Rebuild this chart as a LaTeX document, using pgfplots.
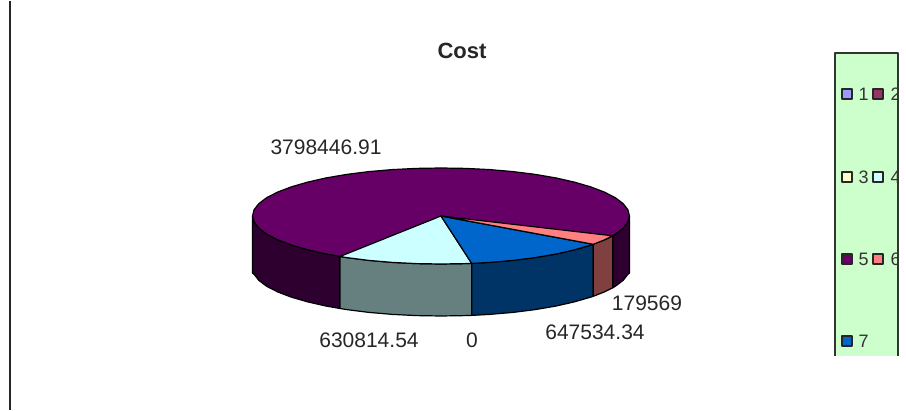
\documentclass[border=0pt]{standalone}
\usepackage{pgfplots}
\usepackage{fontspec}
\setmainfont{Liberation Sans}
\pgfplotsset{compat=1.18}
\definecolor{purpletop}{HTML}{660066}
\definecolor{purpleside}{HTML}{2E0030}
\definecolor{cyantop}{HTML}{CCFFFF}
\definecolor{cyanside}{HTML}{668080}
\definecolor{bluetop}{HTML}{0066CC}
\definecolor{blueside}{HTML}{003366}
\definecolor{pinktop}{HTML}{FF8080}
\definecolor{pinkside}{HTML}{804040}
\definecolor{legendbg}{HTML}{CCFFCC}
\definecolor{swatchone}{HTML}{9999FF}
\definecolor{swatchtwo}{HTML}{993366}
\definecolor{swatchthree}{HTML}{FFFFCC}
\tikzset{
    lbl/.style={font=\fontsize{21}{23}\selectfont, text=black!85},
    legtxt/.style={font=\fontsize{18}{20}\selectfont, anchor=west, text=black!80},
}
\begin{document}
\begin{tikzpicture}
\begin{axis}[
    scale only axis,
    width=906pt,
    height=409pt,
    xmin=0, xmax=906,
    ymin=0, ymax=409,
    y dir=reverse,
    axis lines=none,
    clip=false,
    every axis plot/.append style={line width=1.2pt, line join=round},
    swatch/.style={only marks, mark=square*, mark size=5pt,
        mark options={fill=#1, draw=black!85, line width=1.2pt}},
]
% keeps the page the full size of the reference
\addplot[draw=none] coordinates {(0,0) (906,409)};
% rule on the left
\addplot[black!85, line width=2pt] coordinates {(10,0) (10,409)};

% purple top (whole disc, the other slices go over it)
\addplot[fill=purpletop, draw=black] coordinates {
    (629.5,215) (627.9,208.7) (623.1,202.6) (615.2,196.6) (604.2,191) (590.5,185.8)
    (574.3,181.1) (555.8,176.9) (535.3,173.4) (513.2,170.6) (489.8,168.6) (465.6,167.4)
    (441,167) (416.4,167.4) (392.2,168.6) (368.8,170.6) (346.7,173.4) (326.2,176.9)
    (307.7,181.1) (291.5,185.8) (277.8,191) (266.8,196.6) (258.9,202.6) (254.1,208.7)
    (252.5,215) (254.1,221.3) (258.9,227.4) (266.8,233.4) (277.8,239) (291.5,244.2)
    (307.7,248.9) (326.2,253.1) (346.7,256.6) (368.8,259.4) (392.2,261.4) (416.4,262.6)
    (441,263) (465.6,262.6) (489.8,261.4) (513.2,259.4) (535.3,256.6) (555.8,253.1)
    (574.3,248.9) (590.5,244.2) (604.2,239) (615.2,233.4) (623.1,227.4) (627.9,221.3)
} --cycle;

% purple side, left part
\addplot[fill=purpleside, draw=black] coordinates {
    (252.5,215) (254.1,221.3) (258.9,227.4) (266.8,233.4) (277.8,239) (291.5,244.2)
    (307.7,248.9) (326.2,253.1) (340,255.5)
    (340,307.5) (326.2,305.1) (307.7,300.9) (291.5,296.2) (277.8,291) (266.8,285.4)
    (258.9,279.4) (254.1,273.3) (252.5,272)
} --cycle;

% purple side, right part
\addplot[fill=purpleside, draw=black] coordinates {
    (612.7,234.8) (615.2,233.4) (623.1,227.4) (627.9,221.3) (629.5,215)
    (629.5,272) (627.9,273.3) (623.1,279.4) (615.2,285.4) (612.7,286.8)
} --cycle;

% pale cyan slice
\addplot[fill=cyanside, draw=black] coordinates {
    (340,255.5) (346.7,256.6) (368.8,259.4) (392.2,261.4) (416.4,262.6) (441,263) (465.6,262.6) (471.7,262.4)
    (471.7,314.4) (465.6,314.6) (441,315) (416.4,314.6) (392.2,313.4) (368.8,311.4) (346.7,308.6) (340,307.5)
} --cycle;
\addplot[fill=cyantop, draw=black] coordinates {
    (441,215) (340,255.5) (346.7,256.6) (368.8,259.4) (392.2,261.4) (416.4,262.6) (441,263) (465.6,262.6) (471.7,262.4)
} --cycle;

% blue slice
\addplot[fill=blueside, draw=black] coordinates {
    (471.7,262.4) (489.8,261.4) (513.2,259.4) (535.3,256.6) (555.8,253.1) (574.3,248.9) (590.5,244.2) (593.3,243.3)
    (593.3,295.3) (590.5,296.2) (574.3,300.9) (555.8,305.1) (535.3,308.6) (513.2,311.4) (489.8,313.4) (471.7,314.4)
} --cycle;
\addplot[fill=bluetop, draw=black] coordinates {
    (441,215) (471.7,262.4) (489.8,261.4) (513.2,259.4) (535.3,256.6) (555.8,253.1) (574.3,248.9) (590.5,244.2) (593.3,243.3)
} --cycle;

% pink slice
\addplot[fill=pinkside, draw=black] coordinates {
    (593.3,243.3) (604.2,239) (612.7,234.8) (612.7,286.8) (604.2,291) (593.3,295.3)
} --cycle;
\addplot[fill=pinktop, draw=black] coordinates {
    (441,215) (593.3,243.3) (604.2,239) (612.7,234.8)
} --cycle;

% legend box
\addplot[fill=legendbg, draw=none] coordinates {(835,52) (898,52) (898,355) (835,355)} --cycle;

% legend swatches
\addplot[swatch=swatchone] coordinates {(847,93)};
\addplot[swatch=swatchtwo] coordinates {(878,93)};
\addplot[swatch=swatchthree] coordinates {(847,176)};
\addplot[swatch=cyantop] coordinates {(878,176)};
\addplot[swatch=purpletop] coordinates {(847,258)};
\addplot[swatch=pinktop] coordinates {(878,258)};
\addplot[swatch=bluetop] coordinates {(847,340)};

% legend entries, cut off by the box as in the reference
\begin{scope}
\clip (axis cs:835,52) rectangle (axis cs:897,355);
\node[legtxt] at (axis cs:855,93) {1};
\node[legtxt] at (axis cs:887,93) {2};
\node[legtxt] at (axis cs:855,176) {3};
\node[legtxt] at (axis cs:887,176) {4};
\node[legtxt] at (axis cs:855,258) {5};
\node[legtxt] at (axis cs:887,258) {6};
\node[legtxt] at (axis cs:855,340) {7};
\end{scope}
\addplot[color=black!80, line width=1.3pt] coordinates {(835,355) (835,52) (898,52) (898,355)};

% texts
\node[font=\fontsize{22}{24}\selectfont\bfseries, text=black!85] at (axis cs:462,50) {Cost};
\node[lbl] at (axis cs:326,146) {3798446.91};
\node[lbl] at (axis cs:369,339) {630814.54};
\node[lbl] at (axis cs:472,339) {0};
\node[lbl] at (axis cs:595,331) {647534.34};
\node[lbl] at (axis cs:647,302) {179569};
\end{axis}
\end{tikzpicture}
\end{document}
